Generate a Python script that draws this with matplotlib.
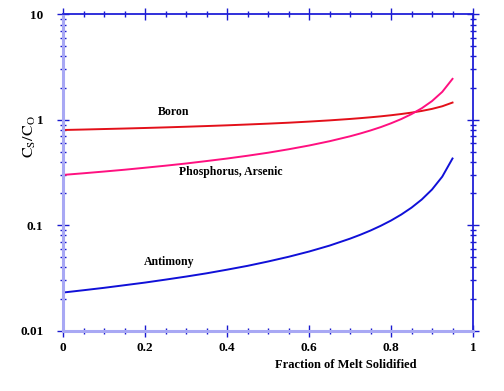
import matplotlib
matplotlib.use("Agg")
import matplotlib.pyplot as plt
from matplotlib.ticker import FixedLocator, LogLocator, NullFormatter

# values
frac_solid = [0.0, 0.05, 0.10, 0.15, 0.20, 0.25, 0.30, 0.35, 0.40, 0.45,
              0.50, 0.55, 0.60, 0.65, 0.70, 0.725, 0.75, 0.775, 0.80, 0.825,
              0.85, 0.875, 0.90, 0.925, 0.95]
boron = [0.800, 0.808, 0.817, 0.826, 0.836, 0.847, 0.859, 0.872, 0.886, 0.902,
         0.919, 0.938, 0.961, 0.987, 1.018, 1.036, 1.056, 1.078, 1.104, 1.134,
         1.169, 1.213, 1.268, 1.343, 1.456]
phos_arsenic = [0.300, 0.311, 0.323, 0.336, 0.351, 0.367, 0.385, 0.406, 0.429, 0.456,
                0.487, 0.525, 0.570, 0.626, 0.697, 0.741, 0.792, 0.852, 0.926, 1.016,
                1.132, 1.286, 1.504, 1.839, 2.443]
antimony = [0.0230, 0.0242, 0.0255, 0.0270, 0.0286, 0.0305, 0.0326, 0.0350, 0.0379, 0.0412,
            0.0453, 0.0502, 0.0563, 0.0641, 0.0746, 0.0812, 0.0891, 0.0988, 0.1108, 0.1263,
            0.1468, 0.1754, 0.2181, 0.2889, 0.4294]

x_ticks = [0, 0.2, 0.4, 0.6, 0.8, 1.0]
x_tick_labels = ["0", "0.2", "0.4", "0.6", "0.8", "1"]
y_ticks = [0.01, 0.1, 1, 10]
y_tick_labels = ["0.01", "0.1", "1", "10"]

plt.rcParams["font.family"] = ["Liberation Serif", "DejaVu Serif"]
plt.rcParams["mathtext.fontset"] = "stix"

fig = plt.figure(figsize=(5.04, 3.91), dpi=100)
ax = fig.add_axes([0.125, 0.1542, 0.8135, 0.8092])

ax.plot(frac_solid, boron, color="#e3101a", lw=1.4)
ax.plot(frac_solid, phos_arsenic, color="#ff1080", lw=1.4)
ax.plot(frac_solid, antimony, color="#1010d8", lw=1.4)

ax.set_yscale("log")
ax.set_xlim(0, 1)
ax.set_ylim(0.01, 10)

ax.xaxis.set_major_locator(FixedLocator(x_ticks))
ax.set_xticklabels(x_tick_labels)
ax.xaxis.set_minor_locator(FixedLocator([i * 0.05 for i in range(21)]))
ax.yaxis.set_major_locator(FixedLocator(y_ticks))
ax.set_yticklabels(y_tick_labels)
ax.yaxis.set_minor_locator(LogLocator(base=10, subs=range(2, 10)))
ax.yaxis.set_minor_formatter(NullFormatter())

for lab in ax.get_xticklabels() + ax.get_yticklabels():
    lab.set_fontweight("bold")
    lab.set_fontsize(9.5)

ax.tick_params(which="both", direction="inout", color="#1a1ad0",
               top=True, right=True, width=1.0)
ax.tick_params(which="major", length=8)
ax.tick_params(which="minor", length=5)
ax.tick_params(axis="x", which="major", pad=4)
ax.tick_params(axis="y", which="major", pad=10)

for side in ("left", "bottom"):
    ax.spines[side].set_color("#a8a8f4")
    ax.spines[side].set_linewidth(2.2)
for side in ("top", "right"):
    ax.spines[side].set_color("#2020d8")
    ax.spines[side].set_linewidth(1.3)

ax.text(0.27, 1.18, "Boron", fontsize=8.5, fontweight="bold", ha="center", va="center")
ax.text(0.41, 0.322, "Phosphorus, Arsenic", fontsize=8.5, fontweight="bold",
        ha="center", va="center")
ax.text(0.26, 0.0445, "Antimony", fontsize=8.5, fontweight="bold", ha="center", va="center")

ax.text(0.69, -0.108, "Fraction of Melt Solidified", transform=ax.transAxes,
        fontsize=9, fontweight="bold", ha="center", va="center")
ax.text(-0.08, 0.615, r"$\mathrm{C_S/C_O}$", transform=ax.transAxes, fontsize=11.5,
        rotation=90, ha="center", va="center")

fig.savefig("out.png", dpi=100)
